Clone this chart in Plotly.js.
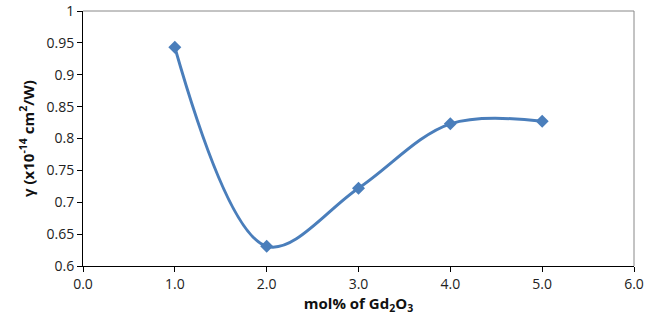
<!DOCTYPE html>
<html>
<head>
<meta charset="utf-8">
<script src="https://cdn.plot.ly/plotly-3.0.1.min.js"></script>
<style>html,body{margin:0;padding:0;background:#fff;}#chart{width:661px;height:320px;}</style>
</head>
<body>
<div id="chart"></div>
<script>
const molPercent = [1, 2, 3, 4, 5];
const gammaValues = [0.943, 0.631, 0.722, 0.823, 0.827];
const xTickVals = [0, 1, 2, 3, 4, 5, 6];
const yTickVals = [0.6, 0.65, 0.7, 0.75, 0.8, 0.85, 0.9, 0.95, 1];

const trace = {
  x: molPercent,
  y: gammaValues,
  type: 'scatter',
  mode: 'lines+markers',
  line: {shape: 'spline', smoothing: 1, color: '#4a7ebb', width: 3},
  marker: {symbol: 'diamond', size: 10, color: '#4a7ebb'},
  hoverinfo: 'none'
};

const font = "'Open Sans', 'Noto Sans', sans-serif";

const layout = {
  width: 661, height: 320,
  margin: {l: 83, r: 27, t: 11, b: 54},
  paper_bgcolor: '#fff', plot_bgcolor: '#fff',
  showlegend: false,
  font: {family: font, size: 14, color: '#222'},
  xaxis: {
    range: [0, 6], tickvals: xTickVals, tickformat: '.1f',
    showgrid: false, zeroline: false,
    showline: true, linecolor: '#000', linewidth: 1,
    ticks: 'outside', ticklen: 5, tickcolor: '#000',
    tickfont: {family: font, size: 14, color: '#222'},
    title: {text: 'mol% of Gd<sub>2</sub>O<sub>3</sub>', font: {family: font, size: 15, color: '#111', weight: 'bold'}, standoff: 6}
  },
  yaxis: {
    range: [0.6, 1], tickvals: yTickVals,
    showgrid: false, zeroline: false,
    showline: true, linecolor: '#000', linewidth: 1,
    ticks: 'outside', ticklen: 5, tickcolor: '#000',
    tickfont: {family: font, size: 14, color: '#222'},
    title: {text: 'γ (x10<sup>-14</sup> cm<sup>2</sup>/W)', font: {family: font, size: 15, color: '#111', weight: 'bold'}, standoff: 8}
  },
  shapes: [
    {type: 'line', xref: 'paper', yref: 'paper', x0: 0, x1: 1, y0: 1, y1: 1, line: {color: '#888', width: 1}},
    {type: 'line', xref: 'paper', yref: 'paper', x0: 1, x1: 1, y0: 0, y1: 1, line: {color: '#888', width: 1}}
  ]
};

Plotly.newPlot('chart', [trace], layout, {displayModeBar: false, staticPlot: true});
</script>
</body>
</html>
